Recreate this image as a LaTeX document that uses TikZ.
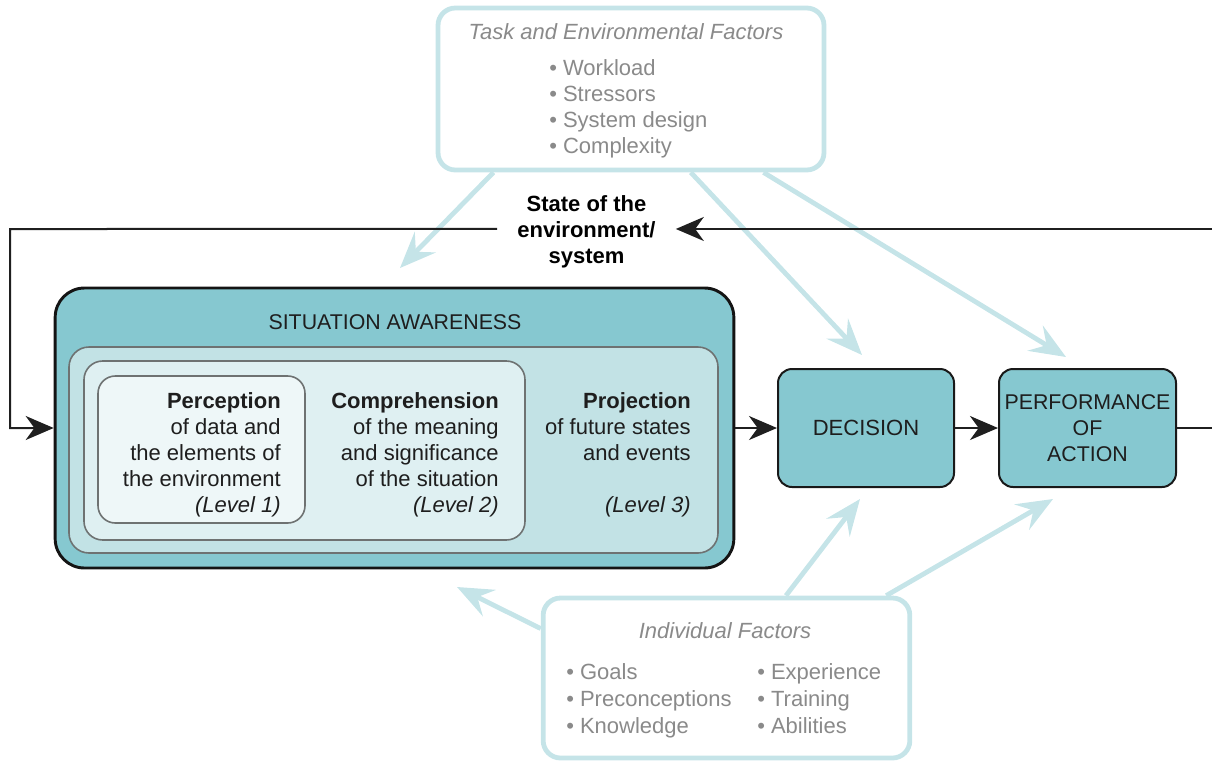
\documentclass[tikz,border=0pt]{standalone}
\usepackage{fontspec}
\setmainfont{Liberation Sans}
\usetikzlibrary{arrows.meta,calc}
\definecolor{tealA}{HTML}{86C8D0}
\definecolor{tealB}{HTML}{C2E2E5}
\definecolor{tealC}{HTML}{DFF0F2}
\definecolor{tealD}{HTML}{EEF7F8}
\definecolor{lblue}{HTML}{C5E4E8}
\definecolor{gtext}{HTML}{8A8A8A}
\definecolor{dtext}{HTML}{1E1E1E}
\definecolor{gborder}{HTML}{6E7272}
\begin{document}
\begin{tikzpicture}[x=0.75pt,y=-0.75pt,
  every node/.style={font=\fontsize{16.5}{19.5}\selectfont},
  factorbox/.style={draw=lblue,line width=3.6pt,rounded corners=13pt,fill=white,inner sep=0pt},
  gtxt/.style={text=gtext,inner sep=0pt},
  lbarrow/.style={draw=lblue,line width=3.6pt,-{Stealth[length=27pt,width=22pt,inset=10pt]}},
  blkline/.style={draw=black!88,line width=1.5pt},
  blkarrow/.style={blkline,-{Stealth[length=21pt,width=18pt,inset=6.5pt]}},
  tealbox/.style={fill=tealA,draw=black!90,line width=1.5pt,rounded corners=10.5pt,inner sep=0pt,
    minimum width=132pt,minimum height=88.5pt,align=center,text=dtext},
  nested/.style={draw=gborder,line width=1.2pt,rounded corners=15pt,inner sep=0pt},
  leveltxt/.style={anchor=east,align=right,inner sep=0pt,text=dtext}
]
\useasboundingbox (0,0) rectangle (1212,761);

% factor boxes
\node[factorbox,minimum width=289.5pt,minimum height=121.5pt] (task) at (631,89) {};
\node[gtxt,font=\fontsize{16.5}{19.5}\selectfont\itshape] (tasktitle) at (626,32) {Task and Environmental Factors};
\node[gtxt,anchor=west,align=left] (tasklist) at (549,109) {\strut• Workload\\\strut• Stressors\\\strut• System design\\\strut• Complexity};

\node[factorbox,minimum width=275pt,minimum height=120pt] (indiv) at (726.5,678) {};
\node[gtxt,font=\fontsize{16.5}{19.5}\selectfont\itshape] (indivtitle) at (725,631) {Individual Factors};
\node[gtxt,anchor=west,align=left,font=\fontsize{16.5}{20.25}\selectfont] (indivleft) at (566,701) {\strut• Goals\\\strut• Preconceptions\\\strut• Knowledge};
\node[gtxt,anchor=west,align=left,font=\fontsize{16.5}{20.25}\selectfont] (indivright) at (757,701) {\strut• Experience\\\strut• Training\\\strut• Abilities};

% light blue influence arrows (tips)
\coordinate (t1) at (400,268);
\coordinate (t2) at (862,355);
\coordinate (t3) at (1066,357);
\coordinate (i1) at (457,587);
\coordinate (i2) at (860,499);
\coordinate (i3) at (1053,499);
\draw[lbarrow] ($(task.south west)!0.148!(task.south east)$) -- (t1);
\draw[lbarrow] ($(task.south west)!0.653!(task.south east)$) -- (t2);
\draw[lbarrow] ($(task.south west)!0.839!(task.south east)$) -- (t3);
\draw[lbarrow] ($(indiv.north west)!0.2!(indiv.south west)$) -- (i1);
\draw[lbarrow] ($(indiv.north west)!0.66!(indiv.north east)$) -- (i2);
\draw[lbarrow] ($(indiv.north west)!0.93!(indiv.north east)$) -- (i3);

% situation awareness
\node[fill=tealA,draw=black!92,line width=2.2pt,rounded corners=22pt,inner sep=0pt,
  minimum width=509pt,minimum height=210pt] (sa) at (394.5,428) {};
\node[text=dtext,inner sep=0pt,font=\fontsize{16}{19.5}\selectfont] (satitle) at (395,322) {SITUATION AWARENESS};
\node[nested,fill=tealB,minimum width=486.75pt,minimum height=154.5pt] (lv3box) at (393.5,450) {};
\node[nested,fill=tealC,minimum width=330.75pt,minimum height=134.25pt,rounded corners=14pt] (lv2box) at (304.5,450.5) {};
\node[nested,fill=tealD,minimum width=155.25pt,minimum height=110.25pt,rounded corners=13pt] (lv1box) at (201.5,449.5) {};

\node[leveltxt] (perc) at (281,454.5) {\textbf{Perception}\\of data and\\the elements of\\the environment\\\textit{(Level 1)}};
\node[leveltxt] (comp) at (499,454.5) {\textbf{Comprehension}\\of the meaning\\and significance\\of the situation\\\textit{(Level 2)}};
\node[leveltxt] (proj) at (691,454.5) {\textbf{Projection}\\of future states\\and events\\\strut\\\textit{(Level 3)}};

% decision and performance
\node[tealbox] (dec) at (866,428) {DECISION};
\node[tealbox,minimum width=132.75pt,font=\fontsize{16}{19.5}\selectfont] (perf) at (1087.5,428) {PERFORMANCE\\OF\\ACTION};

% state of environment
\node[font=\fontsize{16.5}{19.5}\selectfont\bfseries,align=center,inner xsep=15pt,inner ysep=0pt] (state) at (586.5,231.5) {State of the\\environment/\\system};

% black connectors
\coordinate (rt) at (1218,428);
\coordinate (lt) at (10,229);
\draw[blkarrow] (sa.east) -- (dec.west);
\draw[blkarrow] (dec.east) -- (perf.west);
\draw[blkarrow] (perf.east) -- (rt) |- ([yshift=1.9pt]state.east);
\draw[blkarrow] ([yshift=1.9pt]state.west) -- (lt) |- (sa.west);
\end{tikzpicture}
\end{document}
